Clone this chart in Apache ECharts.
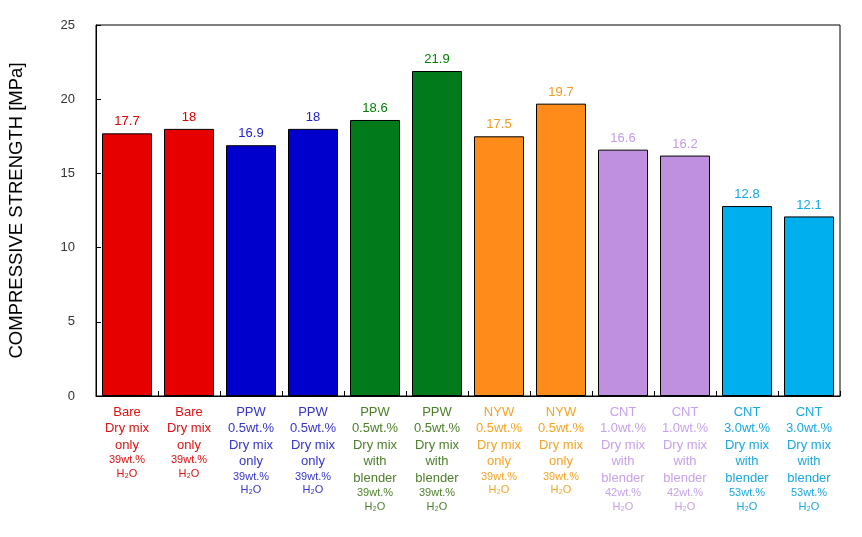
<!DOCTYPE html>
<html><head><meta charset="utf-8">
<script src="https://cdn.jsdelivr.net/npm/echarts@6/dist/echarts.min.js"></script>
<style>html,body{margin:0;padding:0;background:#fff}#c{width:862px;height:537px}</style>
</head><body><div id="c"></div>
<script>
var labelLines = [
  ['Bare','Dry mix','only'],
  ['Bare','Dry mix','only'],
  ['PPW','0.5wt.%','Dry mix','only'],
  ['PPW','0.5wt.%','Dry mix','only'],
  ['PPW','0.5wt.%','Dry mix','with','blender'],
  ['PPW','0.5wt.%','Dry mix','with','blender'],
  ['NYW','0.5wt.%','Dry mix','only'],
  ['NYW','0.5wt.%','Dry mix','only'],
  ['CNT','1.0wt.%','Dry mix','with','blender'],
  ['CNT','1.0wt.%','Dry mix','with','blender'],
  ['CNT','3.0wt.%','Dry mix','with','blender'],
  ['CNT','3.0wt.%','Dry mix','with','blender']
];
var water = ['39wt.%','39wt.%','39wt.%','39wt.%','39wt.%','39wt.%','39wt.%','39wt.%','42wt.%','42wt.%','53wt.%','53wt.%'];
var values = [17.7, 18, 16.9, 18, 18.6, 21.9, 17.5, 19.7, 16.6, 16.2, 12.8, 12.1];
var barColors = ['#e60000','#e60000','#0000cc','#0000cc','#007a1a','#007a1a','#ff8c1a','#ff8c1a','#c090e0','#c090e0','#00b0ee','#00b0ee'];
var valueColors = ['#e00000','#e00000','#2020c8','#2020c8','#008000','#008000','#f59a20','#f59a20','#c49be6','#c49be6','#10a8e8','#10a8e8'];
var textColors = ['#dd1111','#dd1111','#3535cc','#3535cc','#4c7f2a','#4c7f2a','#f5a425','#f5a425','#c8a2ea','#c8a2ea','#1aa8e0','#1aa8e0'];

var cats = labelLines.map(function(l, i){ return 'c' + i; });

var chart = echarts.init(document.getElementById('c'));
chart.setOption({
  animation: false,
  grid: { left: 96, right: 22, top: 25, bottom: 141, show: true, borderColor: '#000', borderWidth: 1, containLabel: false, outerBoundsMode: 'none' },
  xAxis: {
    type: 'category',
    data: cats.map(function(c, i){ return { value: c, textStyle: { color: textColors[i] } }; }),
    axisLine: { lineStyle: { color: '#000' } },
    axisTick: { show: true, inside: true, length: 5, lineStyle: { color: '#000' } },
    axisLabel: {
      interval: 0,
      margin: 8,
      formatter: function(v){
        var i = parseInt(v.slice(1), 10);
        var s = labelLines[i].map(function(t){ return '{m|' + t + '}'; }).join('\n');
        s += '\n{s|' + water[i] + '}\n{s|H₂O}';
        return s;
      },
      rich: {
        m: { fontFamily: 'Liberation Sans, Arial, sans-serif', fontSize: 13, lineHeight: 16.5 },
        s: { fontFamily: 'Liberation Sans, Arial, sans-serif', fontSize: 11, lineHeight: 13.5 }
      }
    }
  },
  yAxis: {
    type: 'value', min: 0, max: 25, interval: 5,
    name: 'COMPRESSIVE STRENGTH [MPa]',
    nameLocation: 'middle', nameGap: 70, nameRotate: 90,
    nameTextStyle: { fontFamily: 'Liberation Sans, Arial, sans-serif', fontSize: 18.5, color: '#000' },
    axisLine: { show: true, lineStyle: { color: '#000' } },
    axisTick: { show: true, inside: true, length: 5, lineStyle: { color: '#000' } },
    splitLine: { show: false },
    axisLabel: { fontFamily: 'Liberation Sans, Arial, sans-serif', fontSize: 13, color: '#333', margin: 21 }
  },
  series: [{
    type: 'bar',
    barWidth: 50,
    data: values.map(function(v, i){
      return {
        value: v,
        itemStyle: { color: barColors[i], borderColor: '#000', borderWidth: 1 },
        label: { color: valueColors[i] }
      };
    }),
    label: { show: true, position: 'top', distance: 5, fontFamily: 'Liberation Sans, Arial, sans-serif', fontSize: 13 }
  }]
});
</script></body></html>
